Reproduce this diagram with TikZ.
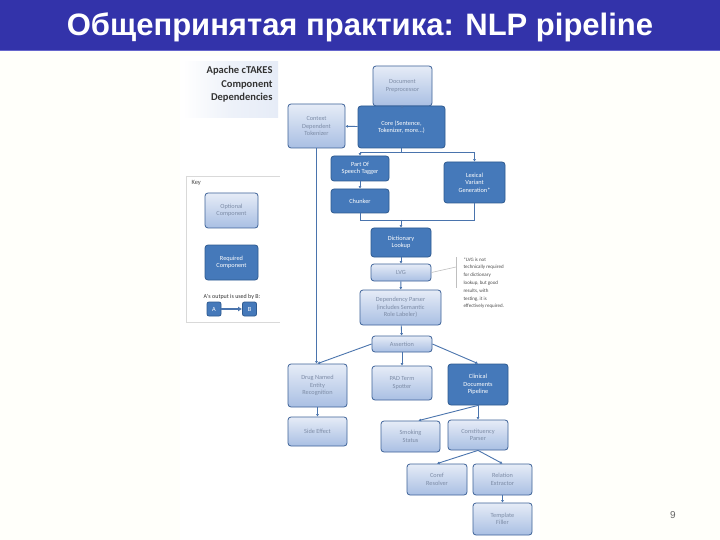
\documentclass[tikz,border=0pt]{standalone}
\usepackage{fontspec}
\setmainfont{Liberation Sans}
\newfontfamily\boxfont{Carlito}
\usepackage{tikz}
\usetikzlibrary{arrows.meta,positioning}

\definecolor{bandblue}{HTML}{3333AA}
\definecolor{bandline}{HTML}{6666CC}
\definecolor{paper}{HTML}{FFFFFA}
\definecolor{optedge}{HTML}{3D6298}
\definecolor{opttop}{HTML}{E6ECF7}
\definecolor{optbot}{HTML}{A9BFE3}
\definecolor{opttext}{HTML}{7D8CA6}
\definecolor{reqfill}{HTML}{4579BA}
\definecolor{reqedge}{HTML}{2E5A90}
\definecolor{wire}{HTML}{4A74AD}

\begin{document}
\begin{tikzpicture}[x=1pt,y=-1pt,
  optbox/.style={draw=optedge,line width=.8pt,rounded corners=3pt,
    top color=opttop,bottom color=optbot,text=opttext,
    align=center,inner sep=1pt,font=\boxfont\fontsize{6.3}{7.6}\selectfont},
  reqbox/.style={draw=reqedge,line width=.8pt,rounded corners=3pt,
    fill=reqfill,text=white,
    align=center,inner sep=1pt,font=\boxfont\fontsize{6.3}{7.6}\selectfont},
  conn/.style={draw=wire,line width=.9pt},
  feed/.style={conn,-{Latex[length=2.5pt,width=3pt]}}
]
  \useasboundingbox (0,0) rectangle (720,540);
  \fill[paper] (0,0) rectangle (720,540);
  \fill[white] (180,56) rectangle (540,540);

  % title band
  \fill[bandblue] (0,0) rectangle (720,50);
  \draw[bandline,line width=1pt] (0,50.5) -- (720,50.5);
  \node[text=white,font=\bfseries\fontsize{31}{34}\selectfont] (title) at (360,27)
    {Общепринятая практика: NLP pipeline};

  % diagram header
  \shade[left color=white,right color=opttop,middle color=opttop!70!white]
    (183,62) rectangle (278,118);
  \node[anchor=north east,align=right,text=black!80,
    font=\boxfont\bfseries\fontsize{10.5}{13.5}\selectfont] (header) at (276,63)
    {Apache cTAKES\\Component\\Dependencies};

  % components
  \node[optbox,minimum width=59pt,minimum height=40pt] (docpre) at (402.5,86) {Document\\Preprocessor};
  \node[optbox,minimum width=57pt,minimum height=44pt] (cdtok) at (316.5,126) {Context\\Dependent\\Tokenizer};
  \node[reqbox,minimum width=87pt,minimum height=42pt] (core) at (401.5,127) {Core (Sentence,\\Tokenizer, more...)};
  \node[reqbox,minimum width=58pt,minimum height=25pt] (pos) at (360,168.5) {Part Of\\Speech Tagger};
  \node[reqbox,minimum width=61pt,minimum height=41pt] (lvgen) at (474.5,182.5) {Lexical\\Variant\\Generation*};
  \node[reqbox,minimum width=58pt,minimum height=24pt] (chunk) at (360,201) {Chunker};
  \node[reqbox,minimum width=60pt,minimum height=29pt] (dict) at (401,242.5) {Dictionary\\Lookup};
  \node[optbox,minimum width=60pt,minimum height=17pt] (lvg) at (401,272.5) {LVG};
  \node[optbox,minimum width=81pt,minimum height=35pt] (dep) at (400.5,307.5) {Dependency Parser\\(includes Semantic\\Role Labeler)};
  \node[optbox,minimum width=60pt,minimum height=16pt] (assert) at (402,344) {Assertion};
  \node[optbox,minimum width=59pt,minimum height=43pt] (drug) at (317.5,385.5) {Drug Named\\Entity\\Recognition};
  \node[optbox,minimum width=60pt,minimum height=34pt] (pad) at (402,383) {PAD Term\\Spotter};
  \node[reqbox,minimum width=60pt,minimum height=41pt] (cdp) at (478,384.5) {Clinical\\Documents\\Pipeline};
  \node[optbox,minimum width=59pt,minimum height=29pt] (side) at (317.5,431.5) {Side Effect};
  \node[optbox,minimum width=59pt,minimum height=31pt] (smoke) at (410.5,436.5) {Smoking\\Status};
  \node[optbox,minimum width=60pt,minimum height=30pt] (const) at (478,435) {Constituency\\Parser};
  \node[optbox,minimum width=60pt,minimum height=31pt] (coref) at (437,479.5) {Coref\\Resolver};
  \node[optbox,minimum width=59pt,minimum height=31pt] (relex) at (502.5,479.5) {Relation\\Extractor};
  \node[optbox,minimum width=59pt,minimum height=32pt] (templ) at (502.5,519) {Template\\Filler};

  % junctions
  \coordinate (split) at (401.5,152);
  \coordinate (merge) at (401,220);

  \draw[feed] (docpre) -- (core);
  \draw[feed] (core) -- (cdtok);
  \draw[feed] (cdtok.south) -- (cdtok.south |- drug.north);
  \draw[conn] (core.south) -- (split);
  \draw[feed] (split) -| (pos.north);
  \draw[feed] (split) -| (lvgen.north);
  \draw[feed] (pos) -- (chunk);
  \draw[conn] (chunk.south) |- (merge);
  \draw[conn] (lvgen.south) |- (merge);
  \draw[feed] (merge) -- (dict.north);
  \draw[feed] (dict) -- (lvg);
  \draw[feed] (lvg) -- (dep);
  \draw[feed] (dep) -- (assert);
  \draw[feed] (assert.west) -- (drug.north);
  \draw[feed] (assert) -- (pad);
  \draw[feed] (assert.east) -- (cdp.north);
  \draw[feed] (drug) -- (side);
  \draw[feed] (cdp) -- (const);
  \draw[feed] (cdp.south) -- ([xshift=8pt]smoke.north);
  \draw[feed] (const.south) -- (coref.north);
  \draw[feed] (const.south) -- (relex.north);
  \draw[feed] (relex) -- (templ);

  % LVG note
  \coordinate (brace) at (456,267);
  \draw[black!25,line width=.6pt] (456,257) -- (456,288);
  \draw[black!25,line width=.6pt] (lvg.east) -- (brace);
  \node[anchor=north west,align=left,text=black!70,
    font=\boxfont\fontsize{5}{7.8}\selectfont] (note) at (460,254)
    {*LVG is not\\technically required\\for dictionary\\lookup, but good\\results, with\\testing, it is\\effectively required.};

  % key
  \draw[black!15,line width=.5pt] (186,176) -- (280,176);
  \draw[black!15,line width=.5pt] (186,176) -- (186,322) -- (280,322);
  \node[anchor=west,text=black!70,font=\boxfont\fontsize{6.5}{8}\selectfont] (key) at (188,183) {Key};
  \node[optbox,minimum width=53pt,minimum height=35pt] (optkey) at (231.5,210.5) {Optional\\Component};
  \node[reqbox,minimum width=53pt,minimum height=35pt] (reqkey) at (231.5,262.5) {Required\\Component};
  \node[text=black!80,font=\boxfont\fontsize{6}{7}\selectfont] (uses) at (232,297) {A's output is used by B:};
  \node[reqbox,minimum width=14pt,minimum height=14pt,rounded corners=2pt] (keya) at (214,309) {A};
  \node[reqbox,minimum width=14pt,minimum height=14pt,rounded corners=2pt] (keyb) at (249.5,309) {B};
  \draw[conn,line width=1.6pt,-{Latex[length=4pt,width=5pt]}] (keya) -- (keyb);

  % page number
  \node[text=black!60,font=\fontsize{10}{12}\selectfont] (page) at (673,515) {9};
\end{tikzpicture}
\end{document}
